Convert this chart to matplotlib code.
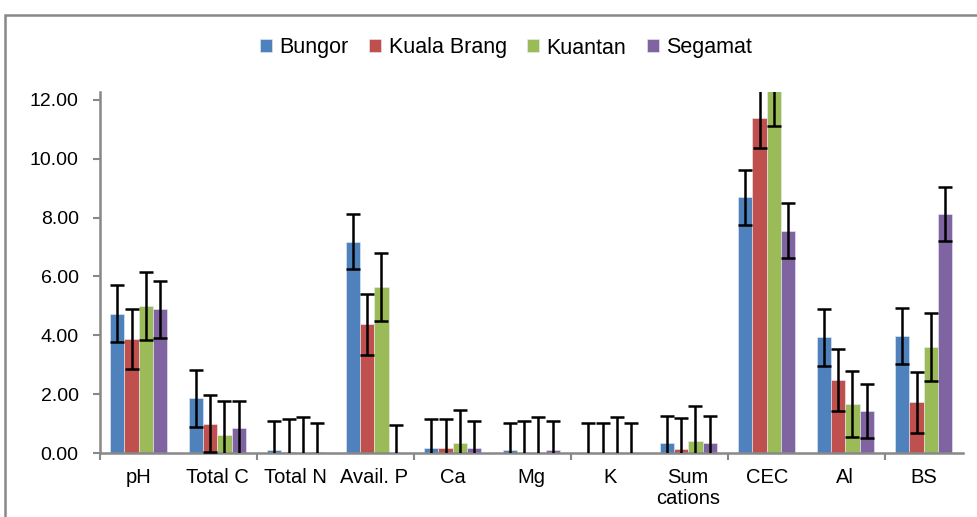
import numpy as np
import matplotlib
matplotlib.use("Agg")
import matplotlib.pyplot as plt
from matplotlib.patches import Rectangle

plt.rcParams['font.family'] = ['Liberation Sans', 'DejaVu Sans']

# Data
categories = ["pH", "Total C", "Total N", "Avail. P", "Ca", "Mg", "K",
              "Sum\ncations", "CEC", "Al", "BS"]
sites = ["Bungor", "Kuala Brang", "Kuantan", "Segamat"]

bungor = [4.74, 1.86, 0.10, 7.18, 0.16, 0.09, 0.00, 0.35, 8.69, 3.93, 3.99]
kuala_brang = [3.86, 0.99, 0.05, 4.37, 0.16, 0.01, 0.00, 0.15, 11.40, 2.48, 1.72]
kuantan = [5.00, 0.61, 0.00, 5.63, 0.35, 0.00, 0.00, 0.42, 12.32, 1.67, 3.61]
segamat = [4.88, 0.86, 0.05, 0.00, 0.16, 0.09, 0.00, 0.35, 7.56, 1.42, 8.12]

bungor_err = [0.98, 0.97, 0.98, 0.94, 1.00, 0.93, 1.02, 0.92, 0.93, 0.96, 0.95]
kuala_brang_err = [1.02, 0.97, 1.10, 1.03, 1.00, 1.08, 1.02, 1.03, 1.04, 1.04, 1.04]
kuantan_err = [1.16, 1.17, 1.22, 1.16, 1.11, 1.22, 1.22, 1.18, 1.20, 1.12, 1.16]
segamat_err = [0.97, 0.92, 0.96, 0.95, 0.93, 1.00, 1.01, 0.91, 0.93, 0.92, 0.93]

colors = ["#4F81BD", "#C0504D", "#9BBB59", "#8064A2"]
values = [bungor, kuala_brang, kuantan, segamat]
errors = [bungor_err, kuala_brang_err, kuantan_err, segamat_err]

W, H = 977, 517
fig = plt.figure(figsize=(W / 100, H / 100), dpi=100)
ax = fig.add_axes([99.5 / W, 1 - 453 / H, (963 - 99.5) / W, (453 - 92) / H])

x = np.arange(len(categories))
bw = 0.182
for i, (name, vals, errs, c) in enumerate(zip(sites, values, errors, colors)):
    pos = x + (i - 1.5) * bw
    ax.bar(pos, vals, bw, color=c, edgecolor="#e8eef6", linewidth=0.4, label=name, zorder=2)
    ax.errorbar(pos, vals, yerr=errs, fmt="none", ecolor="black", elinewidth=1.8,
                capsize=5, capthick=1.8, zorder=3)

ax.set_xlim(-0.5, len(categories) - 0.5)
ax.set_ylim(0, 12.27)
ax.set_yticks(np.arange(0, 12.1, 2))
ax.set_yticklabels([f"{v:.2f}" for v in np.arange(0, 12.1, 2)], fontsize=14)

ax.set_xticks(x)
ax.set_xticklabels(categories, fontsize=14.5, linespacing=1.1)
ax.tick_params(axis="x", length=0, pad=11)
# category tick marks every second boundary
ax.set_xticks(np.arange(-0.5, len(categories), 2), minor=True)
ax.tick_params(axis="x", which="minor", length=5, width=1.5, color="#888888", direction="out")
ax.tick_params(axis="y", length=5, width=1.5, color="#888888", direction="out", pad=10)

for s in ["top", "right"]:
    ax.spines[s].set_visible(False)
for s in ["left", "bottom"]:
    ax.spines[s].set_color("#888888")
    ax.spines[s].set_linewidth(1.8)

leg = fig.legend(loc="center", bbox_to_anchor=(506 / W, 1 - 48 / H), ncol=4,
                 frameon=False, fontsize=15.5, handlelength=0.55, handleheight=0.55,
                 handletextpad=0.35, columnspacing=0.95)

# outer chart frame (runs off the right and bottom edges)
fig.patches.append(Rectangle((5 / W, -0.1), 1.2, 1.1 - 15 / H, transform=fig.transFigure,
                             fill=False, edgecolor="#888888", linewidth=1.8))

fig.savefig("out.png", dpi=100)
